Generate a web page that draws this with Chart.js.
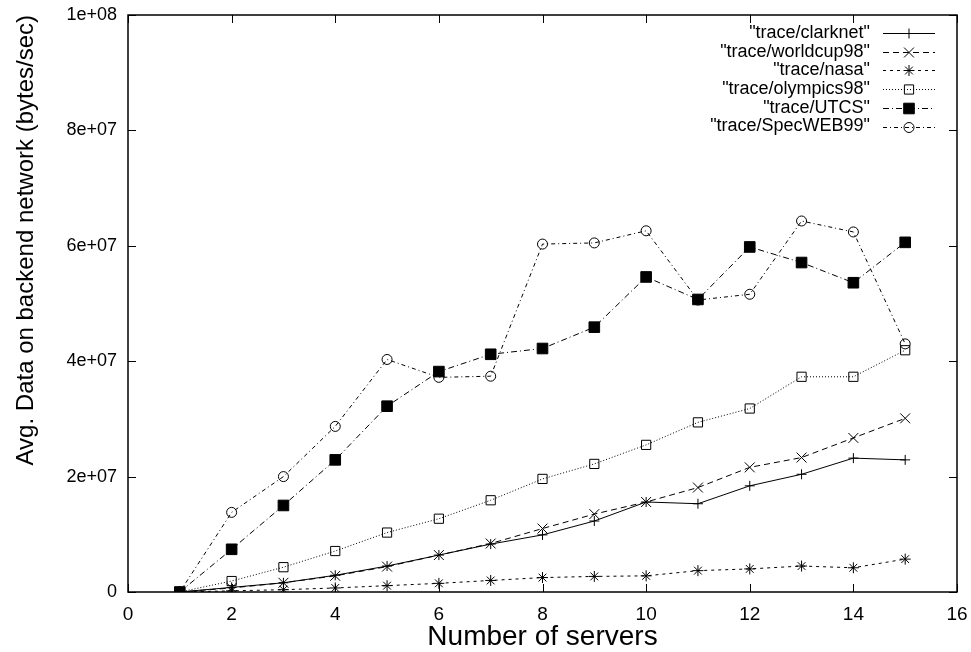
<!DOCTYPE html>
<html>
<head>
<meta charset="utf-8">
<title>Avg. data on backend network</title>
<script src="https://cdn.jsdelivr.net/npm/chart.js@4.4.1/dist/chart.umd.min.js"></script>
<style>
  html, body { margin: 0; padding: 0; background: #fff; }
  #wrap { width: 971px; height: 652px; }
</style>
</head>
<body>
<div id="wrap"><canvas id="chart" width="971" height="652"></canvas></div>
<script>
// values (bytes/sec)
const servers = [1, 2, 3, 4, 5, 6, 7, 8, 9, 10, 11, 12, 13, 14, 15];
const clarknet   = [0, 0.8e6, 1.6e6, 2.9e6, 4.5e6, 6.4e6, 8.3e6, 9.9e6, 1.23e7, 1.56e7, 1.53e7, 1.84e7, 2.04e7, 2.32e7, 2.29e7];
const worldcup98 = [0, 0.7e6, 1.6e6, 2.8e6, 4.4e6, 6.4e6, 8.4e6, 1.1e7, 1.35e7, 1.56e7, 1.81e7, 2.16e7, 2.33e7, 2.67e7, 3.01e7];
const nasa       = [0, 0.2e6, 0.4e6, 0.7e6, 1.1e6, 1.5e6, 2.0e6, 2.5e6, 2.7e6, 2.8e6, 3.7e6, 4.0e6, 4.5e6, 4.2e6, 5.7e6];
const olympics98 = [0, 1.9e6, 4.3e6, 7.1e6, 1.03e7, 1.27e7, 1.59e7, 1.96e7, 2.22e7, 2.55e7, 2.94e7, 3.18e7, 3.73e7, 3.73e7, 4.19e7];
const utcs       = [0, 7.4e6, 1.5e7, 2.29e7, 3.22e7, 3.82e7, 4.12e7, 4.22e7, 4.59e7, 5.46e7, 5.07e7, 5.98e7, 5.71e7, 5.36e7, 6.06e7];
const specweb99  = [0, 1.38e7, 2.0e7, 2.87e7, 4.03e7, 3.72e7, 3.74e7, 6.03e7, 6.05e7, 6.26e7, 5.06e7, 5.16e7, 6.43e7, 6.24e7, 4.3e7];

const seriesLabels = ['"trace/clarknet"', '"trace/worldcup98"', '"trace/nasa"',
                      '"trace/olympics98"', '"trace/UTCS"', '"trace/SpecWEB99"'];

const xTicks = [0, 2, 4, 6, 8, 10, 12, 14, 16];
const yTicks = [0, 2e7, 4e7, 6e7, 8e7, 1e8];

const FONT = 'Liberation Sans, Arial, Helvetica, sans-serif';

function pairs(ys) {
    return servers.map((x, i) => ({ x: x, y: ys[i] }));
}

// gnuplot style "2e+07"
function gnuExp(v) {
    if (v === 0) return '0';
    const [m, e] = v.toExponential(0).split('e');
    const n = parseInt(e, 10);
    return m + 'e' + (n < 0 ? '-' : '+') + String(Math.abs(n)).padStart(2, '0');
}

// don't let tick labels push the plot box in; layout.padding decides it
function noOverhang(s) {
    s.paddingTop = 0; s.paddingBottom = 0;
    s.paddingLeft = 0; s.paddingRight = 0;
}

const styles = [
    { dash: [],               pointStyle: 'cross',    radius: 5,   fill: 'rgba(0,0,0,0)' },
    { dash: [6, 4],           pointStyle: 'crossRot', radius: 7,   fill: 'rgba(0,0,0,0)' },
    { dash: [3, 4],           pointStyle: 'star',     radius: 5.5, fill: 'rgba(0,0,0,0)' },
    { dash: [1, 2],           pointStyle: 'rect',     radius: 6.5, fill: 'rgba(0,0,0,0)' },
    { dash: [6, 3, 1, 3],     pointStyle: 'rect',     radius: 7.5, fill: '#000' },
    { dash: [4, 3, 1, 3],     pointStyle: 'circle',   radius: 5,   fill: 'rgba(0,0,0,0)' }
];

const allSeries = [clarknet, worldcup98, nasa, olympics98, utcs, specweb99];

const datasets = allSeries.map((ys, i) => ({
    label: seriesLabels[i],
    data: pairs(ys),
    borderColor: '#000',
    borderWidth: 1,
    borderDash: styles[i].dash,
    pointStyle: styles[i].pointStyle,
    pointRadius: styles[i].radius,
    pointHoverRadius: styles[i].radius,
    pointBorderColor: '#000',
    pointBackgroundColor: styles[i].fill,
    pointBorderWidth: 1,
    fill: false,
    tension: 0
}));

// frame, inward ticks on all four sides, and a gnuplot-like key
const gnuFrame = {
    id: 'gnuFrame',
    afterDraw(chart) {
        const { ctx, chartArea: a, scales } = chart;
        const tl = 8;
        ctx.save();
        ctx.strokeStyle = '#000';
        ctx.lineWidth = 1.5;
        ctx.setLineDash([]);
        ctx.strokeRect(a.left, a.top, a.right - a.left, a.bottom - a.top);
        ctx.lineWidth = 1;
        ctx.beginPath();
        xTicks.forEach(v => {
            const px = Math.round(scales.x.getPixelForValue(v)) + 0.5;
            ctx.moveTo(px, a.bottom); ctx.lineTo(px, a.bottom - tl);
            ctx.moveTo(px, a.top);    ctx.lineTo(px, a.top + tl);
        });
        yTicks.forEach(v => {
            const py = Math.round(scales.y.getPixelForValue(v)) + 0.5;
            ctx.moveTo(a.left, py);  ctx.lineTo(a.left + tl, py);
            ctx.moveTo(a.right, py); ctx.lineTo(a.right - tl, py);
        });
        ctx.stroke();

        // key
        const textRight = 870, lineL = 883, lineR = 935, top = 33, step = 18.7;
        ctx.font = '18px ' + FONT;
        ctx.textAlign = 'right';
        ctx.textBaseline = 'middle';
        ctx.fillStyle = '#000';
        chart.data.datasets.forEach((ds, i) => {
            const y = top + i * step;
            ctx.fillText(ds.label, textRight, y);
            ctx.save();
            ctx.setLineDash(ds.borderDash);
            ctx.beginPath();
            ctx.moveTo(lineL, Math.round(y) + 0.5);
            ctx.lineTo(lineR, Math.round(y) + 0.5);
            ctx.stroke();
            ctx.restore();
            ctx.fillStyle = ds.pointBackgroundColor;
            ctx.strokeStyle = '#000';
            ctx.lineWidth = 1;
            Chart.helpers.drawPoint(ctx, {
                pointStyle: ds.pointStyle, radius: ds.pointRadius, rotation: 0, borderWidth: 1
            }, (lineL + lineR) / 2, Math.round(y) + 0.5);
            ctx.fillStyle = '#000';
        });
        ctx.restore();
    }
};

new Chart(document.getElementById('chart'), {
    type: 'line',
    data: { datasets: datasets },
    plugins: [gnuFrame],
    options: {
        responsive: false,
        animation: false,
        layout: { autoPadding: false, padding: { top: 15, right: 14, bottom: 0, left: 0 } },
        plugins: {
            legend: { display: false },
            tooltip: { enabled: false }
        },
        scales: {
            x: {
                type: 'linear',
                min: 0,
                max: 16,
                afterBuildTicks: s => { s.ticks = xTicks.map(v => ({ value: v })); },
                afterFit: s => { s.height = 60; noOverhang(s); },
                grid: { display: false, drawTicks: false },
                border: { display: false },
                ticks: {
                    color: '#000',
                    font: { family: FONT, size: 19 },
                    padding: 11,
                    maxRotation: 0,
                    callback: v => String(v)
                },
                title: {
                    display: true,
                    text: 'Number of servers',
                    color: '#000',
                    font: { family: FONT, size: 28 },
                    padding: { top: 0, bottom: -2 }
                }
            },
            y: {
                type: 'linear',
                min: 0,
                max: 1e8,
                afterBuildTicks: s => { s.ticks = yTicks.map(v => ({ value: v })); },
                afterFit: s => { s.width = 128; noOverhang(s); },
                grid: { display: false, drawTicks: false },
                border: { display: false },
                ticks: {
                    color: '#000',
                    font: { family: FONT, size: 18 },
                    padding: 11,
                    callback: v => gnuExp(v)
                },
                title: {
                    display: true,
                    text: 'Avg. Data on backend network (bytes/sec)',
                    color: '#000',
                    align: 'end',
                    font: { family: FONT, size: 24 },
                    padding: { top: 12, bottom: 0 }
                }
            }
        }
    }
});
</script>
</body>
</html>
